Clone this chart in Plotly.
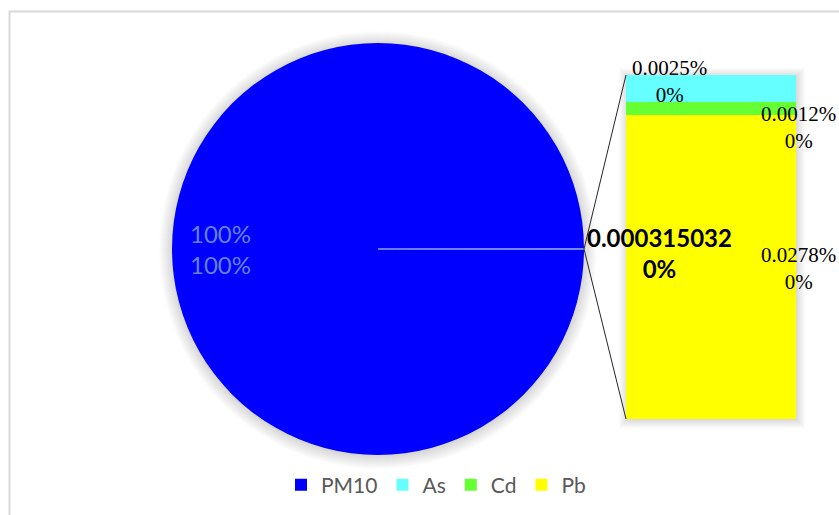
import plotly.graph_objects as go

# Composition of PM10 with its trace metals (fractions of the PM10 mass)
pm10_label = "PM10"
pm10_value = 1.0
metal_labels = ["As", "Cd", "Pb"]
metal_values = [0.000025032, 0.000012, 0.000278]
metal_colors = ["#66FFFF", "#66FF33", "#FFFF00"]
pm10_color = "#0000FF"

W, H = 839, 515
other_value = sum(metal_values)
total = pm10_value + other_value

# layout boxes (pixels) for the pie and the secondary bar
pie_box = dict(x0=172, x1=584, y0=43, y1=455)
bar_box = dict(x0=626, x1=796, y0=75, y1=419)


def px(x):
    return x / W


def py(y):
    return 1 - y / H


fig = go.Figure()

# main pie: PM10 plus the combined "other" wedge centred at 3 o'clock
other_angle = other_value / total * 360
fig.add_trace(go.Pie(
    labels=[pm10_label, "Other"],
    values=[pm10_value, other_value],
    sort=False,
    direction="clockwise",
    rotation=90 + other_angle / 2,
    marker=dict(colors=[pm10_color, pm10_color],
                line=dict(color=[pm10_color, "#8EA2FF"], width=[0, 1])),
    textinfo="none",
    hoverinfo="label+value+percent",
    showlegend=False,
    domain=dict(x=[px(pie_box["x0"]), px(pie_box["x1"])],
                y=[py(pie_box["y1"]), py(pie_box["y0"])]),
))

# legend entry for PM10 (no bar drawn)
fig.add_trace(go.Bar(x=[0], y=[None], name=pm10_label,
                     marker=dict(color=pm10_color, line=dict(width=0)), legendrank=1,
                     xaxis="x", yaxis="y"))

# secondary stacked bar: Pb at the bottom, then Cd, then As
for rank, i in zip([4, 3, 2], [2, 1, 0]):
    fig.add_trace(go.Bar(
        x=[0], y=[metal_values[i]], name=metal_labels[i],
        marker=dict(color=metal_colors[i], line=dict(width=0)),
        width=1, legendrank=rank, hoverinfo="name+y",
        xaxis="x", yaxis="y",
    ))

shapes = []
# chart frame
shapes.append(dict(type="rect", xref="paper", yref="paper",
                   x0=px(9.5), x1=px(W + 20), y0=py(H + 20), y1=py(11.5),
                   line=dict(color="#D9D9D9", width=2), layer="below"))

# soft shadow around the pie
cx = (pie_box["x0"] + pie_box["x1"]) / 2
cy = (pie_box["y0"] + pie_box["y1"]) / 2
r = (pie_box["x1"] - pie_box["x0"]) / 2
for k in range(1, 14):
    rr = r + k
    shapes.append(dict(type="circle", xref="paper", yref="paper",
                       x0=px(cx - rr), x1=px(cx + rr), y0=py(cy + rr + 1), y1=py(cy - rr + 1),
                       fillcolor="rgba(0,0,0,0.011)", line=dict(width=0), layer="below"))
# soft shadow around the bar
for k in range(1, 10):
    shapes.append(dict(type="rect", xref="paper", yref="paper",
                       x0=px(bar_box["x0"] - k + 2), x1=px(bar_box["x1"] + k),
                       y0=py(bar_box["y1"] + k), y1=py(bar_box["y0"] - k + 2),
                       fillcolor="rgba(0,0,0,0.014)", line=dict(width=0), layer="below"))

# connector lines from the pie's edge to the bar corners
for yb in (bar_box["y0"], bar_box["y1"]):
    shapes.append(dict(type="line", xref="paper", yref="paper",
                       x0=px(pie_box["x1"]), y0=py(cy), x1=px(bar_box["x0"]), y1=py(yb),
                       line=dict(color="#262626", width=1)))

annotations = []
sans = "Lato, 'Liberation Sans', sans-serif"
serif = "'Liberation Serif', serif"


def label(x, y, text, font, align="center"):
    annotations.append(dict(
        x=px(x), y=py(y), xref="paper", yref="paper", showarrow=False,
        xanchor="center", yanchor="middle", text=text, font=font, align=align))


# PM10 label inside the pie
label(220, 249, f"{pm10_value * 100:.0f}%<br>{pm10_value / total * 100:.0f}%",
      dict(family=sans, size=24, color="#6482E6"), align="left")

# label of the combined wedge
label(659, 253, f"<b>{other_value:.9f}</b><br><b>{other_value / total * 100:.0f}%</b>",
      dict(family=sans, size=24, color="#000000"))

# bar segment labels
label_pos = {"As": (669, 81), "Cd": (798, 127), "Pb": (798, 268)}
for name, val in zip(metal_labels, metal_values):
    lx, ly = label_pos[name]
    label(lx, ly, f"{val * 100:.4f}%<br>{val / total * 100:.0f}%",
          dict(family=serif, size=21, color="#000000"))

fig.update_layout(
    width=W, height=H,
    margin=dict(l=0, r=0, t=0, b=0),
    paper_bgcolor="white", plot_bgcolor="rgba(0,0,0,0)",
    barmode="stack", bargap=0,
    xaxis=dict(domain=[px(bar_box["x0"]), px(bar_box["x1"])], range=[-0.5, 0.5],
               visible=False, fixedrange=True),
    yaxis=dict(domain=[py(bar_box["y1"]), py(bar_box["y0"])], range=[0, other_value],
               visible=False, fixedrange=True),
    legend=dict(orientation="h", x=px(436), xanchor="center", y=py(485), yanchor="middle",
                font=dict(family=sans, size=21, color="#595959"),
                bgcolor="rgba(0,0,0,0)", traceorder="normal"),
    shapes=shapes,
    annotations=annotations,
)

fig.write_html("out.html")
